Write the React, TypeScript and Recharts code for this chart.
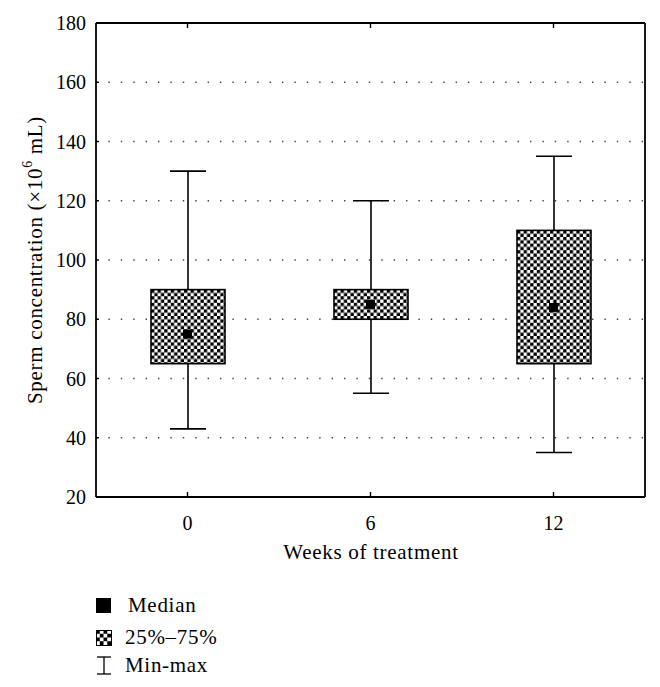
import { ComposedChart, Bar, Scatter, XAxis, YAxis, CartesianGrid } from "recharts";

const weeks = ["0", "6", "12"];
const minVals = [43, 55, 35];
const q1Vals = [65, 80, 65];
const medianVals = [75, 85, 84];
const q3Vals = [90, 90, 110];
const maxVals = [130, 120, 135];
const yTicks = [20, 40, 60, 80, 100, 120, 140, 160, 180];

const data = weeks.map((w, i) => ({
  week: w,
  range: [minVals[i], maxVals[i]],
  box: [q1Vals[i], q3Vals[i]],
  median: medianVals[i],
}));

const FONT = "'Liberation Serif', 'Times New Roman', serif";
const FS = 20; // tick digits
const FW = 21; // words
const LS = 0.7;

const Whisker = (props: any) => {
  const { x, y, width, height } = props;
  const top = Math.min(y, y + height);
  const bot = Math.max(y, y + height);
  const cx = x + width / 2;
  return (
    <g stroke="#000" strokeWidth={1.6}>
      <line x1={cx} x2={cx} y1={top} y2={bot} />
      <line x1={x} x2={x + width} y1={top} y2={top} />
      <line x1={x} x2={x + width} y1={bot} y2={bot} />
    </g>
  );
};

const CheckerBox = (props: any) => {
  const { x, y, width, height, index } = props;
  const top = Math.min(y, y + height);
  const h = Math.abs(height);
  const id = `chk-${index}`;
  const c = 3.3;
  return (
    <g>
      <defs>
        <pattern id={id} x={x} y={top} width={c * 2} height={c * 2} patternUnits="userSpaceOnUse">
          <rect width={c * 2} height={c * 2} fill="#fff" />
          <rect width={c} height={c} fill="#000" />
          <rect x={c} y={c} width={c} height={c} fill="#000" />
        </pattern>
      </defs>
      <rect x={x} y={top} width={width} height={h} fill={`url(#${id})`} stroke="#000" strokeWidth={1.6} />
    </g>
  );
};

const MedianMark = (props: any) => {
  const { cx, cy } = props;
  return <rect x={cx - 4.5} y={cy - 4.5} width={9} height={9} fill="#000" />;
};

const YTick = (props: any) => {
  const { x, y, payload } = props;
  return (
    <g>
      <text x={x} y={y} textAnchor="end" dominantBaseline="central" fontSize={FS} fontFamily={FONT} fill="#000">
        {payload.value}
      </text>
      <line x1={x + 10} x2={x + 13} y1={y} y2={y} stroke="#000" strokeWidth={1.4} />
    </g>
  );
};

const XTick = (props: any) => {
  const { x, y, payload } = props;
  return (
    <g>
      <text x={x} y={y} textAnchor="middle" dominantBaseline="central" fontSize={FS} fontFamily={FONT} fill="#000">
        {payload.value}
      </text>
      <line x1={x} x2={x} y1={y - 26} y2={y - 31} stroke="#000" strokeWidth={1.4} />
    </g>
  );
};

const noTick = () => <g />;

const legendText: React.CSSProperties = {
  position: "absolute",
  fontSize: FW,
  fontFamily: FONT,
  letterSpacing: LS,
  lineHeight: "20px",
  color: "#000",
};

export default function App() {
  return (
    <div
      style={{
        position: "absolute",
        left: 0,
        top: 0,
        width: 660,
        height: 687,
        background: "#fff",
        fontFamily: FONT,
      }}
    >
      <ComposedChart
        width={660}
        height={580}
        data={data}
        margin={{ top: 23, right: 15, bottom: 23, left: 0 }}
      >
        <CartesianGrid
          yAxisId="left"
          xAxisId="a"
          vertical={false}
          stroke="#444"
          strokeWidth={1.4}
          strokeDasharray="1.4 11"
        />
        <XAxis
          xAxisId="a"
          dataKey="week"
          type="category"
          height={60}
          tickSize={0}
          tickMargin={26}
          tickLine={false}
          axisLine={{ stroke: "#000", strokeWidth: 1.8 }}
          tick={<XTick />}
          label={{
            content: () => (
              <text
                x={371}
                y={552}
                textAnchor="middle"
                dominantBaseline="central"
                fontSize={FW}
                letterSpacing={LS}
                fontFamily={FONT}
                fill="#000"
              >
                Weeks of treatment
              </text>
            ),
          }}
        />
        <XAxis
          xAxisId="b"
          dataKey="week"
          type="category"
          orientation="top"
          height={1}
          mirror
          tickSize={5}
          tick={noTick}
          tickLine={{ stroke: "#000", strokeWidth: 1.4 }}
          axisLine={{ stroke: "#000", strokeWidth: 1.8 }}
        />
        <YAxis
          yAxisId="left"
          width={96}
          domain={[20, 180]}
          ticks={yTicks}
          type="number"
          tickSize={0}
          tickMargin={10}
          tickLine={false}
          axisLine={{ stroke: "#000", strokeWidth: 1.8 }}
          tick={<YTick />}
          label={{
            content: () => (
              <text
                x={35}
                y={260}
                transform="rotate(-90 35 260)"
                textAnchor="middle"
                dominantBaseline="central"
                fontSize={FW}
                letterSpacing={LS}
                fontFamily={FONT}
                fill="#000"
              >
                Sperm concentration (×10
                <tspan dy={-8} fontSize={14}>6</tspan>
                <tspan dy={8}> mL)</tspan>
              </text>
            ),
          }}
        />
        <YAxis
          yAxisId="right"
          orientation="right"
          width={1}
          mirror
          domain={[20, 180]}
          ticks={yTicks}
          type="number"
          tickSize={5}
          tick={noTick}
          tickLine={{ stroke: "#000", strokeWidth: 1.4 }}
          axisLine={{ stroke: "#000", strokeWidth: 1.8 }}
        />
        <Bar
          xAxisId="a"
          yAxisId="left"
          dataKey="range"
          barSize={36}
          shape={<Whisker />}
          isAnimationActive={false}
        />
        <Bar
          xAxisId="b"
          yAxisId="left"
          dataKey="box"
          barSize={74}
          shape={<CheckerBox />}
          isAnimationActive={false}
        />
        <Scatter
          xAxisId="b"
          yAxisId="left"
          dataKey="median"
          shape={<MedianMark />}
          isAnimationActive={false}
        />
      </ComposedChart>

      <svg style={{ position: "absolute", left: 0, top: 580 }} width={130} height={107}>
        <defs>
          <pattern id="lg-chk" x={96} y={50} width={7.5} height={7.5} patternUnits="userSpaceOnUse">
            <rect width={7.5} height={7.5} fill="#fff" />
            <rect width={3.75} height={3.75} fill="#000" />
            <rect x={3.75} y={3.75} width={3.75} height={3.75} fill="#000" />
          </pattern>
        </defs>
        <rect x={96} y={18} width={15} height={15} fill="#000" />
        <rect x={96.5} y={50.5} width={15} height={15} fill="url(#lg-chk)" stroke="#000" strokeWidth={1} />
        <g stroke="#000" strokeWidth={1.3}>
          <line x1={97} x2={111} y1={77} y2={77} />
          <line x1={104} x2={104} y1={77} y2={94} />
          <line x1={97} x2={111} y1={94} y2={94} />
        </g>
      </svg>
      <div style={{ ...legendText, left: 128, top: 595 }}>Median</div>
      <div style={{ ...legendText, left: 125, top: 627 }}>25%–75%</div>
      <div style={{ ...legendText, left: 125, top: 655 }}>Min-max</div>
    </div>
  );
}
